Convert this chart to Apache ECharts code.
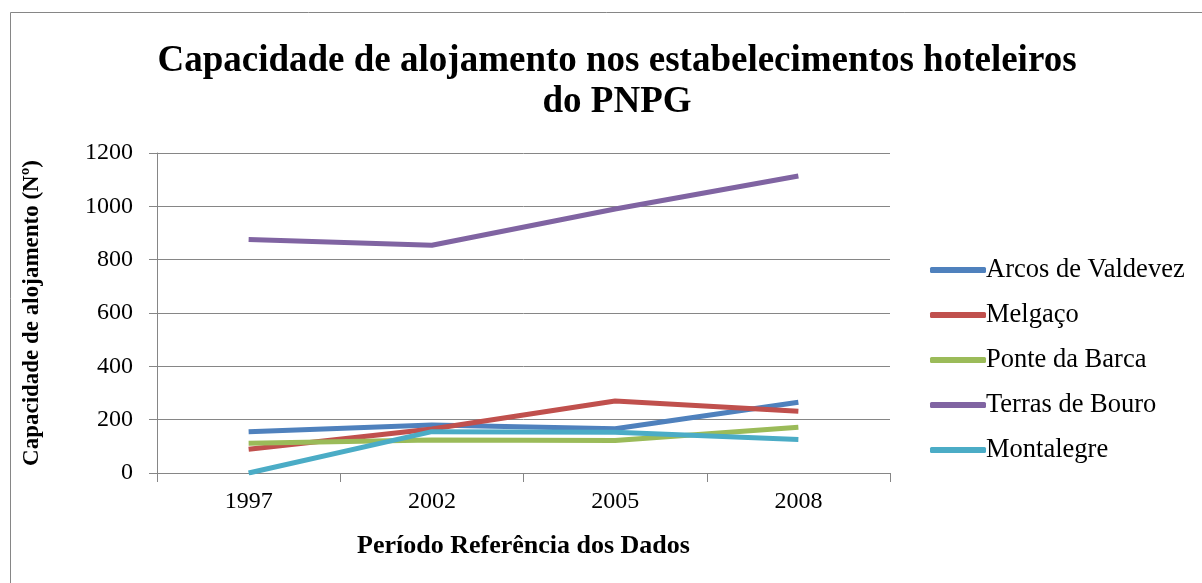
<!DOCTYPE html>
<html>
<head>
<meta charset="utf-8">
<script src="https://cdn.jsdelivr.net/npm/echarts@6/dist/echarts.min.js"></script>
<style>
  html, body { margin: 0; padding: 0; background: #fff; }
  #main { width: 1202px; height: 583px; }
</style>
</head>
<body>
<div id="main"></div>
<script>
var anos = ['1997', '2002', '2005', '2008'];
var yTicks = [0, 200, 400, 600, 800, 1000, 1200];

var arcos = [155, 180, 166, 265];
var melgaco = [89, 165, 270, 232];
var ponte = [112, 124, 122, 172];
var terras = [876, 854, 990, 1114];
var montalegre = [0, 155, 153, 126];

var cores = ['#4F81BD', '#C0504D', '#9BBB59', '#8064A2', '#4BACC6'];
var fonte = '"Liberation Serif", "Times New Roman", serif';

var chart = echarts.init(document.getElementById('main'));

function linha(nome, dados) {
  return {
    name: nome,
    type: 'line',
    data: dados,
    symbol: 'none',
    lineStyle: { width: 5 },
    emphasis: { disabled: true }
  };
}

var option = {
  animation: false,
  color: cores,
  graphic: [{
    type: 'rect',
    shape: { x: 10.5, y: 12.5, width: 1200, height: 580 },
    style: { fill: 'none', stroke: '#868686', lineWidth: 1 }
  }],
  title: {
    text: 'Capacidade de alojamento nos estabelecimentos hoteleiros\ndo PNPG',
    left: 612,
    top: 36,
    textAlign: 'center',
    textStyle: {
      fontFamily: fonte,
      fontSize: 37,
      fontWeight: 'bold',
      color: '#000',
      lineHeight: 41
    }
  },
  legend: {
    orient: 'vertical',
    left: 925,
    top: 251,
    itemWidth: 56,
    itemHeight: 6,
    itemGap: 17,
    icon: 'roundRect',
    textStyle: { fontFamily: fonte, fontSize: 26.5, color: '#000', lineHeight: 28, padding: [0, 0, 0, -5] },
    data: ['Arcos de Valdevez', 'Melgaço', 'Ponte da Barca', 'Terras de Bouro', 'Montalegre']
  },
  grid: { left: 157, right: 312, top: 153, bottom: 110 },
  xAxis: {
    type: 'category',
    data: anos,
    boundaryGap: true,
    name: 'Período Referência dos Dados',
    nameLocation: 'middle',
    nameGap: 60,
    nameTextStyle: { fontFamily: fonte, fontSize: 26, fontWeight: 'bold', color: '#000' },
    axisLine: { lineStyle: { color: '#868686', width: 1 } },
    axisTick: { show: true, length: 9, lineStyle: { color: '#868686' } },
    axisLabel: { fontFamily: fonte, fontSize: 24, color: '#000', margin: 17 },
    splitLine: { show: false }
  },
  yAxis: {
    type: 'value',
    min: yTicks[0],
    max: yTicks[yTicks.length - 1],
    interval: 200,
    name: 'Capacidade de alojamento (Nº)',
    nameLocation: 'middle',
    nameGap: 113,
    nameTextStyle: { fontFamily: fonte, fontSize: 23, fontWeight: 'bold', color: '#000' },
    axisLine: { show: true, lineStyle: { color: '#868686', width: 1 } },
    axisTick: { show: true, length: 8, lineStyle: { color: '#868686' } },
    axisLabel: {
      fontFamily: fonte, fontSize: 24, color: '#000', margin: 24,
      formatter: function (v) { return String(v); }
    },
    splitLine: { show: true, lineStyle: { color: '#868686', width: 1 } }
  },
  series: [
    linha('Arcos de Valdevez', arcos),
    linha('Melgaço', melgaco),
    linha('Ponte da Barca', ponte),
    linha('Terras de Bouro', terras),
    linha('Montalegre', montalegre)
  ]
};

chart.setOption(option);
</script>
</body>
</html>
